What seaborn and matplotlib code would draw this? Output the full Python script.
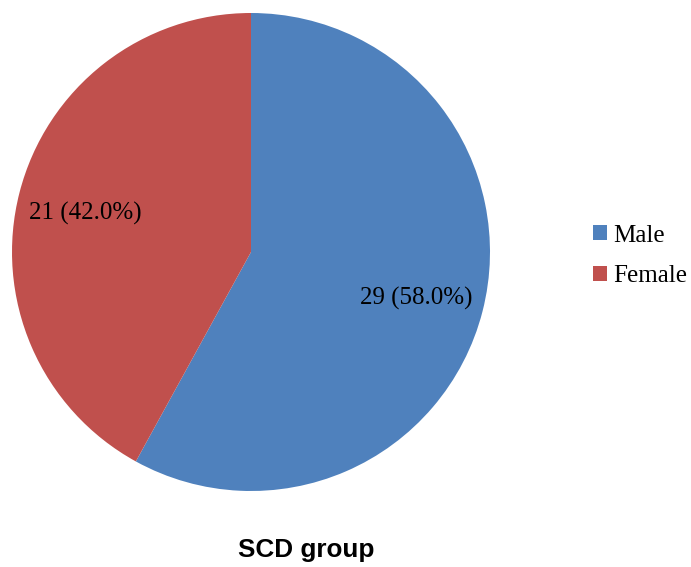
import matplotlib
matplotlib.use("Agg")
import matplotlib.pyplot as plt
from matplotlib.patches import Patch
from matplotlib.transforms import ScaledTranslation
import seaborn as sns

categories = ["Male", "Female"]
counts = [29, 21]
colors = ["#4F81BD", "#C0504D"]
title = "SCD group"

sns.set_style("white")
plt.rcParams["font.family"] = ["Liberation Serif", "DejaVu Serif"]
plt.rcParams["text.color"] = "black"

fig = plt.figure(figsize=(6.91, 5.67), dpi=100)
W, H = 691, 567
# pie axes: square box placed in pixel terms
ax = fig.add_axes([12 / W, (H - 491) / H, 478 / W, 478 / H])

total = sum(counts)
wedges, texts, autotexts = ax.pie(
    counts,
    colors=colors,
    startangle=90,
    counterclock=False,
    radius=1.0,
    pctdistance=0.715,
    autopct=lambda p: f"{round(p * total / 100):d} ({p:.1f}%)",
    wedgeprops=dict(linewidth=0),
    textprops=dict(fontsize=18, color="black"),
)
# nudge value labels slightly downward
for t in autotexts:
    t.set_transform(t.get_transform() + ScaledTranslation(0, -4 / 100, fig.dpi_scale_trans))
ax.set_xlim(-1, 1)
ax.set_ylim(-1, 1)
ax.set_aspect("equal")
ax.axis("off")

handles = [Patch(facecolor=c, edgecolor="none") for c in colors]
fig.legend(
    handles,
    categories,
    loc="center left",
    bbox_to_anchor=(593 / W, 1 - 256 / H),
    frameon=False,
    fontsize=18,
    handlelength=0.55,
    handleheight=0.55,
    handletextpad=0.25,
    labelspacing=0.75,
    borderpad=0,
    borderaxespad=0,
)

fig.text(306 / W, 1 - 550 / H, title, ha="center", va="center", color="black",
         fontsize=18.8, fontweight="bold", family=["Liberation Sans", "DejaVu Sans"])

fig.savefig("out.png", dpi=100, facecolor="white")
